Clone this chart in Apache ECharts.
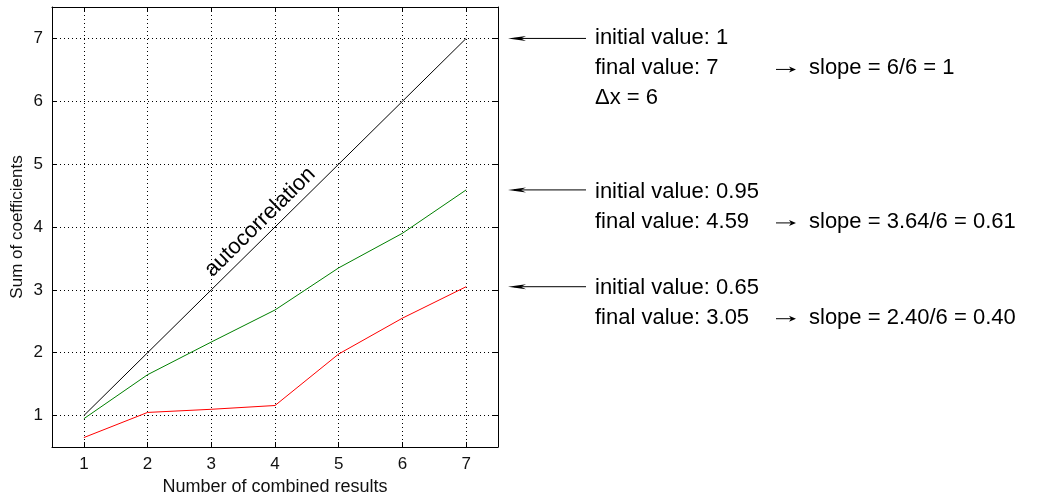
<!DOCTYPE html>
<html>
<head>
<meta charset="utf-8">
<script src="https://cdn.jsdelivr.net/npm/echarts@6/dist/echarts.min.js"></script>
<style>
  html, body { margin: 0; padding: 0; background: #ffffff; }
  #chart { width: 1053px; height: 497px; }
</style>
</head>
<body>
<div id="chart"></div>
<script>
// Number of combined results (x) and the coefficient sums per curve
const combined = [1, 2, 3, 4, 5, 6, 7];
const autocorrelation = [1, 2, 3, 4, 5, 6, 7];
const greenSums = [0.95, 1.65, 2.17, 2.68, 3.35, 3.9, 4.59];
const redSums = [0.65, 1.05, 1.1, 1.16, 1.98, 2.55, 3.05];

// Tick values on both axes
const xTicks = [1, 2, 3, 4, 5, 6, 7];
const yTicks = [1, 2, 3, 4, 5, 6, 7];

// Side notes, one block per curve
const notesBlack = ['initial value: 1', 'final value: 7', '\u0394x = 6'];
const notesGreen = ['initial value: 0.95', 'final value: 4.59'];
const notesRed = ['initial value: 0.65', 'final value: 3.05'];
const slopeNotes = ['slope = 6/6 = 1', 'slope = 3.64/6 = 0.61', 'slope = 2.40/6 = 0.40'];
const curveLabel = 'autocorrelation';

const FONT = "'Liberation Sans', Arial, Helvetica, sans-serif";
const pairs = vals => combined.map((x, i) => [x, vals[i]]);

const chart = echarts.init(document.getElementById('chart'), null, { renderer: 'canvas' });

const dotted = { show: true, lineStyle: { color: '#000', width: 1, type: [1, 3] } };
const frameLine = { show: true, onZero: false, lineStyle: { color: '#000', width: 1 } };
const innerTick = vals => ({ show: true, inside: true, length: 5, customValues: vals, lineStyle: { color: '#000', width: 1 } });

chart.setOption({
  animation: false,
  backgroundColor: '#fff',
  grid: { left: 52, right: 555, top: 7, bottom: 50, containLabel: false, outerBoundsMode: 'none' },
  xAxis: [
    {
      type: 'value', min: 0.5, max: 7.5, position: 'bottom',
      axisLine: frameLine, axisTick: innerTick(xTicks),
      axisLabel: { customValues: xTicks, color: '#111', fontFamily: FONT, fontSize: 17, margin: 9 },
      splitLine: dotted,
      name: 'Number of combined results', nameLocation: 'middle', nameGap: 31,
      nameTextStyle: { color: '#111', fontFamily: FONT, fontSize: 18 }
    },
    {
      type: 'value', min: 0.5, max: 7.5, position: 'top',
      axisLine: frameLine, axisTick: innerTick(xTicks),
      axisLabel: { show: false }, splitLine: { show: false }
    }
  ],
  yAxis: [
    {
      type: 'value', min: 0.5, max: 7.5, position: 'left',
      axisLine: frameLine, axisTick: innerTick(yTicks),
      axisLabel: { customValues: yTicks, color: '#111', fontFamily: FONT, fontSize: 17, margin: 9 },
      splitLine: dotted,
      name: 'Sum of coefficients', nameLocation: 'middle', nameGap: 26, nameRotate: 90,
      nameTextStyle: { color: '#111', fontFamily: FONT, fontSize: 17 }
    },
    {
      type: 'value', min: 0.5, max: 7.5, position: 'right',
      axisLine: frameLine, axisTick: innerTick(yTicks),
      axisLabel: { show: false }, splitLine: { show: false }
    }
  ],
  series: [
    { name: 'autocorrelation', type: 'line', data: pairs(autocorrelation), symbol: 'none',
      lineStyle: { color: '#000', width: 1 } },
    { name: 'green', type: 'line', data: pairs(greenSums), symbol: 'none',
      lineStyle: { color: '#008000', width: 1 } },
    { name: 'red', type: 'line', data: pairs(redSums), symbol: 'none',
      lineStyle: { color: '#ff0000', width: 1 } }
  ]
});

// Annotations placed from the data scale
const toPx = pt => chart.convertToPixel({ gridIndex: 0 }, pt);
const graphics = [];
const textX = 595;
const lineStep = 30;

function arrowLeft(y) {
  graphics.push({ type: 'line', shape: { x1: 514, y1: y, x2: 586, y2: y },
    style: { stroke: '#000', lineWidth: 1 } });
  graphics.push({ type: 'polygon', shape: { points: [[508, y], [526, y - 2.5], [521, y], [526, y + 2.5]] },
    style: { fill: '#000' } });
}
function smallArrow(x, y) {
  graphics.push({ type: 'line', shape: { x1: x, y1: y, x2: x + 17, y2: y },
    style: { stroke: '#000', lineWidth: 1 } });
  graphics.push({ type: 'polygon', shape: { points: [[x + 20, y], [x + 13, y - 3], [x + 15, y], [x + 13, y + 3]] },
    style: { fill: '#000' } });
}
function noteBlock(lines, y0, slope) {
  lines.forEach((t, i) => {
    graphics.push({ type: 'text', x: textX, y: y0 + i * lineStep,
      style: { text: t, fill: '#000', font: '22px ' + FONT, textAlign: 'left', textVerticalAlign: 'middle' } });
  });
  const ys = y0 + lineStep;
  smallArrow(776, ys + 1);
  graphics.push({ type: 'text', x: 809, y: ys,
    style: { text: slope, fill: '#000', font: '22px ' + FONT, textAlign: 'left', textVerticalAlign: 'middle' } });
}

const last = combined.length - 1;
const yBlack = toPx([combined[last], autocorrelation[last]])[1];
const yGreen = toPx([combined[last], greenSums[last]])[1];
const yRed = toPx([combined[last], redSums[last]])[1];
arrowLeft(yBlack); noteBlock(notesBlack, yBlack, slopeNotes[0]);
arrowLeft(yGreen); noteBlock(notesGreen, yGreen + 2, slopeNotes[1]);
arrowLeft(yRed); noteBlock(notesRed, yRed + 1, slopeNotes[2]);

// Curve label running along the autocorrelation line
const pA = toPx([combined[0], autocorrelation[0]]);
const pB = toPx([combined[last], autocorrelation[last]]);
const ang = Math.atan2(pA[1] - pB[1], pB[0] - pA[0]);
const pMid = toPx([3.92, 3.92]);
const off = 14;
graphics.push({ type: 'text', x: pMid[0] - Math.sin(ang) * off, y: pMid[1] - Math.cos(ang) * off,
  rotation: ang,
  style: { text: curveLabel, fill: '#000', font: '22px ' + FONT, textAlign: 'center', textVerticalAlign: 'middle' } });

chart.setOption({ graphic: { elements: graphics } });
</script>
</body>
</html>
